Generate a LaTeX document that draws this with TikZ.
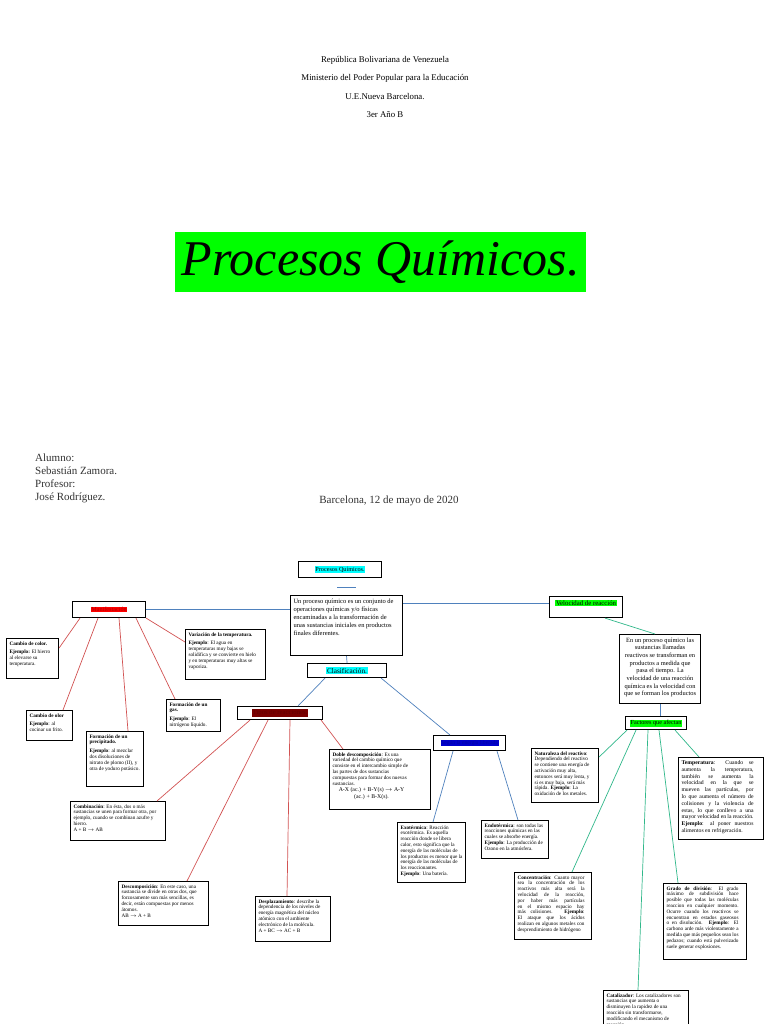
\documentclass[tikz,border=0pt]{standalone}
\usepackage{fontspec}
\setmainfont{Liberation Serif}
\usetikzlibrary{calc}
\definecolor{hlcyan}{HTML}{00FFFF}
\definecolor{hlgreen}{HTML}{00FF00}
\definecolor{hlred}{HTML}{FF0000}
\definecolor{hlmaroon}{HTML}{7A0000}
\definecolor{hlblue}{HTML}{0000CC}
\definecolor{linered}{HTML}{D25353}
\definecolor{lineblue}{HTML}{4F81BD}
\definecolor{linegreen}{HTML}{30B88A}
\hyphenpenalty=10000
\exhyphenpenalty=10000
\newcommand{\hilite}[2]{{\setlength{\fboxsep}{0.7pt}\colorbox{#1}{#2}}}
% outer width, height, text width, text
\newcommand{\notetext}[4]{\parbox[c][#2pt][t]{#1pt}{\parbox[t]{#3pt}{\raggedright #4}}}
\newcommand{\notejust}[4]{\parbox[c][#2pt][t]{#1pt}{\parbox[t]{#3pt}{\emergencystretch=2em #4}}}
\tikzset{
  notebox/.style={
    draw=black,
    line width=1.1pt,
    fill=white,
    anchor=north west,
    inner sep=3pt,
    font=\fontsize{5.2}{5.8}\selectfont
  },
  textbox/.style={
    draw=black,
    line width=1.1pt,
    fill=white,
    anchor=north west,
    inner sep=3pt,
    font=\fontsize{6.5}{8}\selectfont
  },
  labelbox/.style={
    draw=black,
    line width=1.1pt,
    fill=white,
    anchor=north west,
    inner sep=0pt,
    font=\fontsize{6.2}{6.5}\selectfont
  },
  headtext/.style={font=\fontsize{8.8}{10}\selectfont},
  redlink/.style={draw=linered, line width=0.7pt},
  bluelink/.style={draw=lineblue, line width=0.7pt},
  greenlink/.style={draw=linegreen, line width=0.7pt}
}
\begin{document}
\begin{tikzpicture}[x=1pt,y=-1pt]
\useasboundingbox (0,0) rectangle (768,1024);
\clip (0,0) rectangle (768,1024);
\fill[white] (0,0) rectangle (768,1024);

% cover page
\node[headtext] (rep) at (385,60) {República Bolivariana de Venezuela};
\node[headtext] (min) at (385,78) {Ministerio del Poder Popular para la Educación};
\node[headtext] (esc) at (385,97) {U.E.Nueva Barcelona.};
\node[headtext] (anio) at (385,115) {3er Año B};
\node[fill=hlgreen, anchor=north west, minimum width=411pt, minimum height=60pt, inner sep=0pt,
  font=\fontsize{50}{50}\selectfont\itshape] (title) at (175,232) {Procesos Químicos.};
\node[anchor=north west, align=left, inner sep=0pt, text=black!80,
  font=\fontsize{11}{13}\selectfont] (alumno) at (35,454) {Alumno:\\Sebastián Zamora.\\Profesor:\\José Rodríguez.};
\node[anchor=base, inner sep=0pt, text=black!80, font=\fontsize{11}{13}\selectfont] (fecha) at (389,503) {Barcelona, 12 de mayo de 2020};

% concept map: heads
\node[labelbox, minimum width=83pt, minimum height=16pt] (pq) at (298,561) {\hilite{hlcyan}{Procesos Químicos.}};
\coordinate (barl) at (337,587);
\coordinate (barr) at (356,587);
\node[textbox] (defin) at (290,595) {\notetext{106}{54}{106}{Un proceso químico es un conjunto de operaciones químicas y/o físicas encaminadas a la transformación de unas sustancias iniciales en productos finales diferentes.}};
\node[labelbox, minimum width=73pt, minimum height=16pt] (manif) at (72,601) {\hilite{hlred}{\textcolor{red!70!black}{Manifestación}}};
\node[labelbox, minimum width=73pt, minimum height=21pt, text depth=9pt, font=\fontsize{6.8}{7}\selectfont] (velo) at (549,596) {\hilite{hlgreen}{Velocidad de reacción}};
\node[labelbox, minimum width=79pt, minimum height=14pt, font=\fontsize{7.2}{7.5}\selectfont] (clasif) at (307,663) {\hilite{hlcyan}{Clasificación.}};
\node[labelbox, minimum width=85pt, minimum height=13pt, font=\fontsize{6.7}{7}\selectfont] (tipos) at (237,706) {\hilite{hlmaroon}{\textcolor{hlmaroon!80!black}{Tipos de reacciones.}}};
\node[labelbox, minimum width=72pt, minimum height=15pt, font=\fontsize{5.6}{6}\selectfont] (energia) at (433,735) {\hilite{hlblue}{\textcolor{hlblue!80!black}{Según la energía liberada}}};
\node[textbox, font=\fontsize{6.4}{7.7}\selectfont] (velodef) at (619,634) {\parbox[c][63pt][t]{75pt}{\centering\parbox[t]{72pt}{\centering En un proceso químico las sustancias llamadas reactivos se transforman en productos a medida que pasa el tiempo. La velocidad de una reacción química es la velocidad con que se forman los productos}}};
\node[labelbox, minimum width=61pt, minimum height=13pt] (factores) at (625,716) {\hilite{hlgreen}{Factores que afectan}};

% manifestaciones
\node[notebox] (ccolor) at (6,638) {\notetext{46}{34}{42}{\textbf{Cambio de color.}\\[3pt]\textbf{Ejemplo:} El hierro al elevarse su temperatura.}};
\node[notebox] (codor) at (26,710) {\notetext{40}{24}{40}{\textbf{Cambio de olor}\\[3pt]\textbf{Ejemplo}: al cocinar un frito.}};
\node[notebox] (cprecip) at (86,731) {\notetext{51}{49}{51}{\textbf{Formación de un precipitado.}\\[3pt]\textbf{Ejemplo}: al mezclar dos disoluciones de nitrato de plomo (II), y otra de yoduro potásico.}};
\node[notebox] (cgas) at (166,699) {\notetext{48}{26}{46}{\textbf{Formación de un gas.}\\[3pt]\textbf{Ejemplo}: El nitrógeno líquido.}};
\node[notebox] (ctemp) at (185,629) {\notetext{74}{44}{69}{\textbf{Variación de la temperatura.}\\[3pt]\textbf{Ejemplo}: El agua en temperaturas muy bajas se solidifica y se convierte en hielo y en temperaturas muy altas se vaporiza.}};

% tipos de reacciones
\node[notebox] (comb) at (70,801) {\notetext{89}{33}{89}{\textbf{Combinación}: En ésta, dos o más sustancias se unen para formar otra, por ejemplo, cuando se combinan azufre y hierro.\\A + B $\rightarrow$ AB}};
\node[notebox] (descomp) at (118,881) {\notetext{84}{38}{84}{\textbf{Descomposición}: En este caso, una sustancia se divide en otras dos, que forzosamente son más sencillas, es decir, están compuestas por menos átomos.\\AB $\rightarrow$ A + B}};
\node[notebox] (despl) at (255,896) {\notetext{69}{39}{69}{\textbf{Desplazamiento}: describe la dependencia de los niveles de energía magnética del núcleo atómico con el ambiente electrónico de la molécula.\\A + BC $\rightarrow$ AC + B}};
\node[notebox] (doble) at (329,749) {\notetext{95}{54}{78}{\textbf{Doble descomposición}: Es una variedad del cambio químico que consiste en el intercambio simple de las partes de dos sustancias compuestas para formar dos nuevas sustancias.\par
{\centering\fontsize{5.8}{6.6}\selectfont A-X (ac.) + B-Y(s) $\rightarrow$ A-Y\\(ac.) + B-X(s).\par}}};
\node[notebox] (exo) at (397,822) {\notetext{62}{54}{62}{\textbf{Exotérmica}: Reacción exotérmica. Es aquella reacción donde se libera calor, esto significa que la energía de las moléculas de los productos es menor que la energía de las moléculas de los reaccionantes.\\\textbf{Ejemplo}: Una batería.}};
\node[notebox] (endo) at (481,820) {\notetext{61}{32}{61}{\textbf{Endotérmica}: son todas las reacciones químicas en las cuales se absorbe energía.\\\textbf{Ejemplo}: La producción de Ozono en la atmósfera.}};

% factores
\node[notebox] (natur) at (531,748) {\notetext{61}{48}{57}{\textbf{Naturaleza del reactivo}: Dependiendo del reactivo se contiene una energía de activación muy alta, entonces será muy lenta, y si es muy baja, será más rápida. \textbf{Ejemplo}: La oxidación de los metales.}};
\node[notebox, font=\fontsize{5.7}{6.8}\selectfont] (tempf) at (678,757) {\notejust{79}{76}{72}{\textbf{Temperatura}: Cuando se aumenta la temperatura, también se aumenta la velocidad en la que se mueven las partículas, por lo que aumenta el número de colisiones y la violencia de estas, lo que conllevo a una mayor velocidad en la reacción. \textbf{Ejemplo}: al poner nuestros alimentos en refrigeración.}};
\node[notebox] (concen) at (514,872) {\notejust{71}{61}{67}{\textbf{Concentración}: Cuanto mayor sea la concentración de los reactivos más alta será la velocidad de la reacción, por haber más partículas en el mismo espacio hay más colisiones. \textbf{Ejemplo}: El ataque que los ácidos realizan en algunos metales con desprendimiento de hidrógeno}};
\node[notebox] (grado) at (663,883) {\notejust{77}{70}{72}{\textbf{Grado de división}: El grado máximo de subdivisión hace posible que todas las moléculas reaccion en cualquier momento. Ocurre cuando los reactivos se encuentran en estados gaseosos o en disolución. \textbf{Ejemplo}: El carbono arde más violentamente a medida que más pequeños sean los pedazos; cuando está pulverizado suele generar explosiones.}};
\node[notebox] (catal) at (603,990) {\notetext{79}{54}{75}{\textbf{Catalizador}: Los catalizadores son sustancias que aumenta o disminuyen la rapidez de una reacción sin transformarse, modificando el mecanismo de reacción.}};

% connectors
\draw[bluelink] (barl) -- (barr);
\draw[bluelink] (manif.east) -- (manif.east -| defin.west);
\draw[bluelink] ([yshift=-8pt]defin.north east) -- ([yshift=-8pt]defin.north east -| velo.west);
\draw[bluelink] (defin.south) -- (clasif.north);
\draw[bluelink] ([xshift=18pt]clasif.south west) -- ([xshift=61pt]tipos.north west);
\draw[bluelink] ([xshift=-6pt]clasif.south east) -- ([xshift=17pt]energia.north west);

\draw[redlink] ([xshift=8pt]manif.south west) -- ([yshift=-10pt]ccolor.north east);
\draw[redlink] ([xshift=26pt]manif.south west) -- ([xshift=37pt]codor.north west);
\draw[redlink] ([xshift=47pt]manif.south west) -- ([xshift=42pt]cprecip.north west);
\draw[redlink] ([xshift=64pt]manif.south west) -- ([xshift=9pt]cgas.north west);
\draw[redlink] (manif.south east) -- ([yshift=-13pt]ctemp.north west);

\draw[redlink] ([xshift=13pt]tipos.south west) -- ([xshift=87pt]comb.north west);
\draw[redlink] ([xshift=31pt]tipos.south west) -- ([xshift=69pt]descomp.north west);
\draw[redlink] ([xshift=53pt]tipos.south west) -- ([xshift=32pt]despl.north west);
\draw[redlink] ([xshift=-2pt]tipos.south east) -- ([xshift=14pt]doble.north west);

\draw[bluelink] ([xshift=20pt]energia.south west) -- ([xshift=36pt]exo.north west);
\draw[bluelink] ([xshift=64pt]energia.south west) -- ([xshift=37pt]endo.north west);

\draw[greenlink] ([xshift=56pt]velo.south west) -- ([xshift=36pt]velodef.north west);
\draw[bluelink] (velodef.south) -- (velodef.south |- factores.north);
\draw[greenlink] ([xshift=2pt]factores.south west) -- ([yshift=-9pt]natur.north east);
\draw[greenlink] ([xshift=11pt]factores.south west) -- ([xshift=58pt]concen.north west);
\draw[greenlink] ([xshift=23pt]factores.south west) -- ([xshift=35pt]catal.north west);
\draw[greenlink] ([xshift=34pt]factores.south west) -- ([xshift=15pt]grado.north west);
\draw[greenlink] ([xshift=50pt]factores.south west) -- ([xshift=21pt]tempf.north west);
\end{tikzpicture}
\end{document}
